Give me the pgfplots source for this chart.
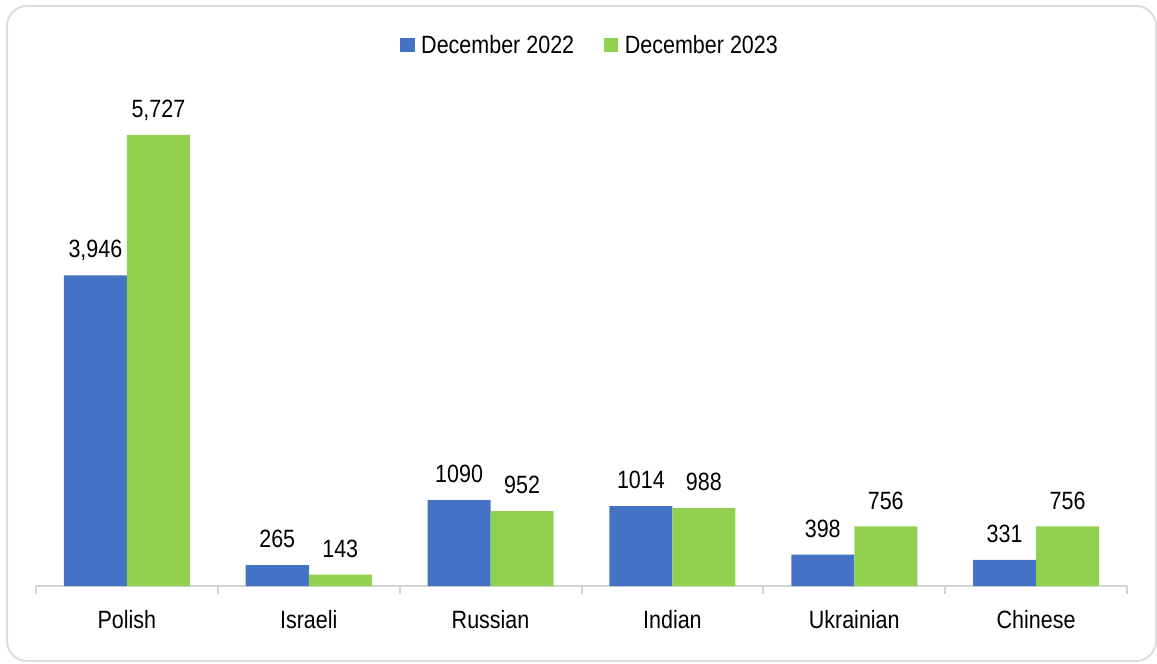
\documentclass[border=0pt]{standalone}
\usepackage{pgfplots}
\pgfplotsset{compat=1.18}
\usepackage{pgfplotstable}
\usepackage{fontspec}
\setmainfont[FakeStretch=0.86]{Liberation Sans}
\definecolor{barblue}{HTML}{4472C4}
\definecolor{bargreen}{HTML}{92D050}
\definecolor{axgray}{HTML}{D4D4D4}
\definecolor{framegray}{HTML}{DDDDDD}
\newcommand\chartfont{\fontsize{18.75}{22}\selectfont}

\pgfplotstableread{
x y lab
0 3946 {3,946}
1 265 265
2 1090 1090
3 1014 1014
4 398 398
5 331 331
}\dataA
\pgfplotstableread{
x y lab
0 5727 {5,727}
1 143 143
2 952 952
3 988 988
4 756 756
5 756 756
}\dataB

\begin{document}
\begin{tikzpicture}
\useasboundingbox (0,0) rectangle (867.75pt,498pt);
\draw[framegray, line width=1.5pt, rounded corners=15pt] (5.25pt,2.25pt) rectangle (867pt,493.5pt);
\begin{axis}[
  at={(27pt,58.5pt)}, anchor=south west,
  scale only axis, width=818.25pt, height=354.375pt,
  xmin=-0.5, xmax=5.5, ymin=0, ymax=6000,
  axis x line=bottom, axis y line=none,
  x axis line style={-, axgray, line width=1.5pt},
  ytick=\empty,
  xtick={0,...,5},
  xticklabels={Polish,Israeli,Russian,Indian,Ukrainian,Chinese},
  major tick length=0pt,
  minor xtick={-0.5,0.5,...,5.5},
  minor tick length=6pt,
  xtick align=outside,
  every minor tick/.append style={axgray, line width=1.5pt},
  xticklabel style={font=\chartfont, anchor=base, yshift=-31.5pt, text=black},
  ybar=0pt, bar width=47.25pt,
  nodes near coords,
  point meta=explicit symbolic,
  every node near coord/.append style={font=\chartfont, text=black, inner sep=0pt, text depth=0pt, yshift=12.75pt},
  legend columns=2,
  legend style={at={(0.508,1.145)}, anchor=center, draw=none, font=\chartfont,
    /tikz/every odd column/.append style={column sep=3pt},
    /tikz/every even column/.append style={column sep=20pt}},
  legend image code/.code={\fill[#1, draw=none] (0pt,-5.5pt) rectangle (11pt,5.5pt);},
]
\addplot[fill=barblue, draw=none] table[x=x, y=y, meta=lab] {\dataA};
\addplot[fill=bargreen, draw=none] table[x=x, y=y, meta=lab] {\dataB};
\legend{December 2022, December 2023}
\end{axis}
\end{tikzpicture}
\end{document}
